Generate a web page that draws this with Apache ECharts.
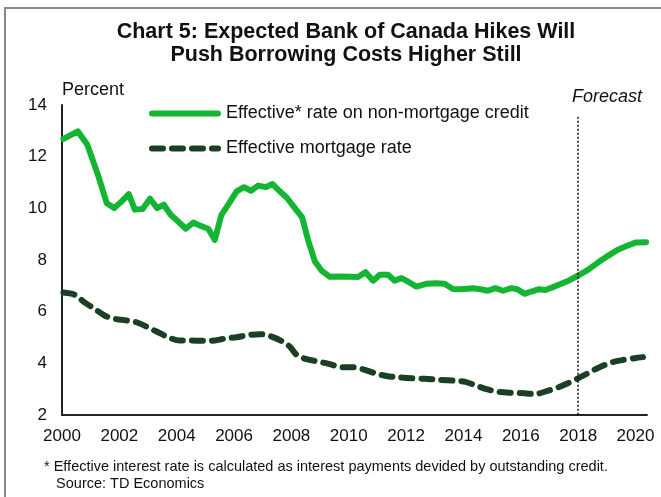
<!DOCTYPE html>
<html>
<head>
<meta charset="utf-8">
<script src="https://cdn.jsdelivr.net/npm/echarts@6/dist/echarts.min.js"></script>
<style>
  html, body { margin: 0; padding: 0; background: #fff; }
  #chart { width: 661px; height: 497px; }
</style>
</head>
<body>
<div id="chart"></div>
<script>
// Effective rate on non-mortgage credit (%), by period (decimal year)
const nonMortgageYears = [2000.05, 2000.55, 2000.88, 2001.27, 2001.56, 2001.82, 2002.08, 2002.33, 2002.54, 2002.81,
  2003.07, 2003.32, 2003.55, 2003.79, 2004.05, 2004.32, 2004.58, 2004.81, 2005.1, 2005.33,
  2005.56, 2005.83, 2006.09, 2006.35, 2006.59, 2006.84, 2007.1, 2007.34, 2007.6, 2007.85,
  2008.12, 2008.37, 2008.58, 2008.82, 2009.05, 2009.34, 2009.8, 2010.32, 2010.58, 2010.85,
  2011.08, 2011.37, 2011.6, 2011.84, 2012.1, 2012.36, 2012.7, 2013.05, 2013.34, 2013.63,
  2013.93, 2014.33, 2014.59, 2014.85, 2015.11, 2015.38, 2015.67, 2015.88, 2016.13, 2016.37,
  2016.63, 2016.86, 2017.12, 2017.41, 2017.68, 2017.99, 2018.34, 2018.69, 2019.04, 2019.38,
  2019.73, 2020.02, 2020.37];
const nonMortgageRates = [12.69, 12.98, 12.47, 11.24, 10.2, 10.01, 10.27, 10.55, 9.95, 9.97,
  10.37, 10.01, 10.14, 9.75, 9.49, 9.21, 9.45, 9.33, 9.21, 8.78,
  9.75, 10.2, 10.66, 10.82, 10.68, 10.88, 10.82, 10.94, 10.66, 10.4,
  10.01, 9.66, 8.78, 7.94, 7.59, 7.35, 7.36, 7.34, 7.53, 7.2,
  7.43, 7.43, 7.2, 7.3, 7.14, 6.97, 7.08, 7.1, 7.08, 6.88,
  6.87, 6.91, 6.87, 6.81, 6.91, 6.81, 6.91, 6.87, 6.69, 6.78,
  6.87, 6.84, 6.95, 7.08, 7.21, 7.39, 7.62, 7.9, 8.16, 8.4,
  8.56, 8.68, 8.69];

// Effective mortgage rate (%), by period (decimal year)
const mortgageYears = [2000.05, 2000.45, 2000.8, 2001.15, 2001.5, 2001.85, 2002.25, 2002.6, 2002.95, 2003.3,
  2003.7, 2004.11, 2004.52, 2004.92, 2005.33, 2005.68, 2006.09, 2006.49, 2006.9, 2007.25,
  2007.65, 2007.94, 2008.18, 2008.53, 2008.93, 2009.34, 2009.75, 2010.15, 2010.5, 2010.91,
  2011.31, 2011.72, 2012.18, 2012.65, 2013.17, 2013.69, 2014.04, 2014.39, 2014.8, 2015.21,
  2015.67, 2016.13, 2016.48, 2016.95, 2017.3, 2017.64, 2017.99, 2018.34, 2018.75, 2019.15,
  2019.56, 2019.97, 2020.26];
const mortgageRates = [6.74, 6.65, 6.35, 6.1, 5.84, 5.72, 5.66, 5.59, 5.42, 5.23,
  5.01, 4.88, 4.88, 4.87, 4.88, 4.96, 5.01, 5.09, 5.13, 5.06,
  4.87, 4.65, 4.33, 4.16, 4.07, 3.97, 3.85, 3.85, 3.77, 3.62,
  3.51, 3.46, 3.42, 3.4, 3.36, 3.33, 3.29, 3.16, 3.0, 2.9,
  2.86, 2.84, 2.81, 2.94, 3.07, 3.23, 3.42, 3.62, 3.85, 4.03,
  4.13, 4.2, 4.24];

const seriesNames = ['Effective* rate on non-mortgage credit', 'Effective mortgage rate'];
const titleLines = ['Chart 5: Expected Bank of Canada Hikes Will', 'Push Borrowing Costs Higher Still'];
const footnoteLines = ['* Effective interest rate is calculated as interest payments devided by outstanding credit.',
  '   Source: TD Economics'];
const forecastStart = 2018;
const forecastLineTop = 13.55;

const pair = (xs, ys) => xs.map((x, i) => [x, ys[i]]);

const FONT = "'Liberation Sans', Arial, Helvetica, sans-serif";
const GREEN = '#13b533';
const DARK = '#1a3f24';
const AXIS = '#23261c';

const chart = echarts.init(document.getElementById('chart'), null, { renderer: 'canvas' });

chart.setOption({
  animation: false,
  backgroundColor: '#ffffff',
  textStyle: { fontFamily: FONT },
  legend: {
    orient: 'vertical',
    left: 149,
    top: 104.5,
    padding: 0,
    itemWidth: 66,
    itemHeight: 14,
    itemGap: 17,
    data: seriesNames,
    itemStyle: { opacity: 0 },
    lineStyle: { width: 6, cap: 'round' },
    textStyle: { fontFamily: FONT, fontSize: 18, color: '#111', padding: [0, 0, 0, 3] }
  },
  grid: { left: 62, right: 14, top: 105, bottom: 82 },
  xAxis: {
    type: 'value',
    min: 2000,
    max: 2020.4,
    interval: 2,
    axisLine: { show: true, lineStyle: { color: AXIS, width: 2 } },
    axisTick: { show: false },
    splitLine: { show: false },
    axisLabel: {
      fontFamily: FONT, fontSize: 17, color: '#111', margin: 13, showMaxLabel: false,
      formatter: (v) => String(v)
    }
  },
  yAxis: {
    type: 'value',
    min: 2,
    max: 14,
    interval: 2,
    name: 'Percent',
    nameLocation: 'end',
    nameGap: 6,
    nameTextStyle: { fontFamily: FONT, fontSize: 18, color: '#111', align: 'left', padding: [0, 0, 0, 0] },
    axisLine: { show: true, lineStyle: { color: AXIS, width: 2 } },
    axisTick: { show: false },
    splitLine: { show: false },
    axisLabel: { fontFamily: FONT, fontSize: 17, color: '#111', margin: 15 }
  },
  series: [
    {
      name: seriesNames[0],
      type: 'line',
      data: pair(nonMortgageYears, nonMortgageRates),
      symbol: 'none',
      lineStyle: { color: GREEN, width: 6, join: 'round', cap: 'round' },
      itemStyle: { color: GREEN },
      z: 3,
      markLine: {
        silent: true,
        symbol: 'none',
        label: { show: false },
        lineStyle: { color: '#111', width: 1.5, type: [2, 2] },
        data: [[{ coord: [forecastStart, forecastLineTop] }, { coord: [forecastStart, 2] }]]
      }
    },
    {
      name: seriesNames[1],
      type: 'line',
      data: pair(mortgageYears, mortgageRates),
      symbol: 'none',
      smooth: 0.3,
      lineStyle: { color: DARK, width: 6, type: [11, 9], cap: 'round', join: 'round' },
      itemStyle: { color: DARK },
      z: 2
    }
  ],
  graphic: [
    {
      type: 'polyline',
      silent: true,
      shape: { points: [[5, 497], [5, 8], [661, 8]] },
      style: { stroke: '#8a8a84', lineWidth: 2, fill: null }
    },
    {
      type: 'text',
      x: 346,
      y: 21,
      style: {
        text: titleLines.join('\n'),
        font: "bold 21.5px 'Liberation Sans', Arial, sans-serif",
        fill: '#111',
        align: 'center',
        lineHeight: 23
      }
    },
    {
      type: 'text',
      left: 572,
      top: 88,
      style: { text: 'Forecast', font: "italic 18px 'Liberation Sans', Arial, sans-serif", fill: '#111' }
    },
    {
      type: 'text',
      left: 44,
      top: 458,
      style: { text: footnoteLines.join('\n'), font: "14.5px 'Liberation Sans', Arial, sans-serif", fill: '#111', lineHeight: 17 }
    }
  ]
});
</script>
</body>
</html>
